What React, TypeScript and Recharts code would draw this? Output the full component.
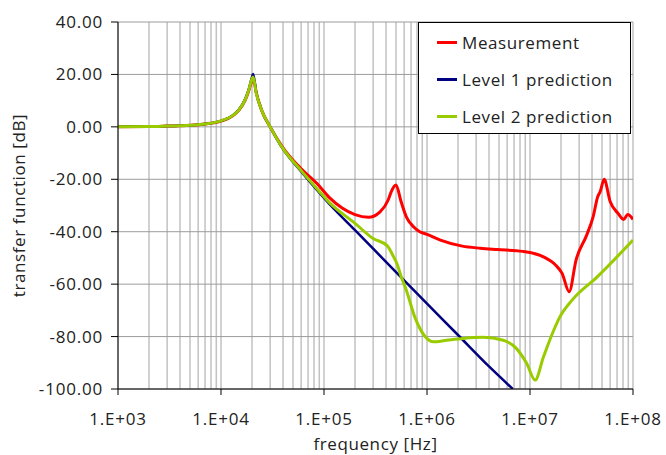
import React from "react";
import {
  CartesianGrid,
  Legend,
  Line,
  LineChart,
  XAxis,
  YAxis,
} from "recharts";

// frequency [Hz] / transfer function [dB]
const measFreq = [
  1e3, 2e3, 3e3, 5e3, 7e3, 1e4, 1.3e4, 1.5e4, 1.7e4, 1.85e4, 2e4, 2.07e4, 2.2e4,
  2.5e4, 3e4, 4e4, 6e4, 8.5e4, 1.15e5, 1.5e5, 2e5, 2.7e5, 3.5e5, 4.2e5, 4.5e5,
  5e5, 5.6e5, 6.3e5, 7.4e5, 8.5e5, 1e6, 1.35e6, 2.2e6, 3.3e6, 4.8e6, 8.5e6,
  1.35e7, 1.8e7, 2.05e7, 2.4e7, 2.8e7, 3.55e7, 4.1e7, 4.55e7, 4.8e7, 5.25e7,
  6e7, 7.15e7, 8.1e7, 8.9e7, 1e8,
];
const measDb = [
  0, 0.1, 0.3, 0.6, 1.1, 2.2, 4.2, 6.5, 9.8, 13.5, 17.5, 18.0, 13.0, 6.0, 0.0,
  -8.0, -16.0, -21.5, -27.3, -31.0, -33.5, -34.5, -32.4, -27.9, -24.7, -22.2,
  -28.5, -34.3, -38.1, -40.0, -41.0, -43.2, -45.5, -46.3, -46.8, -47.5, -49.6,
  -53.0, -55.9, -62.9, -50.8, -41.3, -34.3, -26.6, -24.7, -20.0, -28.5, -33.0,
  -35.3, -33.4, -35.3,
];

const lvl1Freq = [
  1e3, 2e3, 3e3, 5e3, 7e3, 1e4, 1.3e4, 1.5e4, 1.7e4, 1.85e4, 2e4, 2.05e4, 2.2e4,
  2.5e4, 3e4, 4e4, 6e4, 8.5e4, 1.15e5, 2e5, 5e5, 1e6, 2e6, 4e6, 6.8e6,
];
const lvl1Db = [
  0, 0.1, 0.3, 0.6, 1.1, 2.3, 4.3, 6.7, 10.2, 14.0, 19.0, 20.2, 13.0, 6.0, 0.0,
  -8.5, -17.0, -24.0, -29.8, -39.4, -55.4, -67.4, -79.4, -91.4, -100,
];

const lvl2Freq = [
  1e3, 2e3, 3e3, 5e3, 7e3, 1e4, 1.3e4, 1.5e4, 1.7e4, 1.85e4, 2e4, 2.05e4, 2.2e4,
  2.5e4, 3e4, 4e4, 6e4, 8.5e4, 1.15e5, 2e5, 3e5, 4.1e5, 4.7e5, 5.1e5, 5.6e5,
  6.3e5, 7.6e5, 9.1e5, 1.15e6, 1.55e6, 2.25e6, 3.5e6, 5.5e6, 7.4e6, 9.3e6,
  1.12e7, 1.35e7, 1.7e7, 1.95e7, 2.6e7, 4.5e7, 1e8,
];
const lvl2Db = [
  0, 0.1, 0.3, 0.6, 1.1, 2.3, 4.3, 6.6, 10.0, 13.8, 18.3, 19.0, 12.8, 6.0, 0.0,
  -8.3, -16.7, -23.5, -29.2, -36.8, -42.6, -45.3, -49.3, -52.1, -57.0, -62.3,
  -72.5, -78.8, -82.0, -81.4, -80.7, -80.3, -81.4, -84.6, -90.3, -96.6, -87.8,
  -77.6, -72.5, -65.8, -57.2, -43.2,
];

const decades = [1e3, 1e4, 1e5, 1e6, 1e7, 1e8];
const yTicks = [-100, -80, -60, -40, -20, 0, 20, 40];

const seriesNames = ["Measurement", "Level 1 prediction", "Level 2 prediction"];
const seriesColors = ["#ff0000", "#000080", "#99cc00"];

// all 1..9 multiples per decade, so the grid gets the log minor lines
const xTicks = decades.flatMap((d, i) =>
  i === decades.length - 1 ? [d] : [1, 2, 3, 4, 5, 6, 7, 8, 9].map((m) => m * d)
);
const decadeSet = new Set(decades);

const toRows = (freq: number[], db: number[]) =>
  freq.map((f, i) => ({ f, db: db[i] }));

const measData = toRows(measFreq, measDb);
const lvl1Data = toRows(lvl1Freq, lvl1Db);
const lvl2Data = toRows(lvl2Freq, lvl2Db);

const FONT = "'Open Sans', 'Noto Sans', sans-serif";
const TEXT = "#222";
const X_TICK = 6;
const X_MARGIN = 18;

const fmtDecade = (v: number) => {
  const e = Math.round(Math.log10(v));
  return `1.E+${String(e).padStart(2, "0")}`;
};

function XTick({ x, y, payload }: any) {
  if (!decadeSet.has(payload.value)) return <g />;
  return (
    <g>
      <line
        x1={x}
        x2={x}
        y1={y - X_MARGIN - X_TICK}
        y2={y - X_MARGIN}
        stroke="#000"
      />
      <text
        x={x}
        y={y}
        dy="0.71em"
        textAnchor="middle"
        fill={TEXT}
        fontSize={17}
        letterSpacing={0.8}
        fontFamily={FONT}
      >
        {fmtDecade(payload.value)}
      </text>
    </g>
  );
}

function YLabel({ viewBox }: any) {
  const cx = 25;
  const cy = viewBox ? viewBox.y + viewBox.height / 2 : 205;
  return (
    <text
      x={cx}
      y={cy}
      transform={`rotate(-90 ${cx} ${cy})`}
      textAnchor="middle"
      fill={TEXT}
      fontSize={17}
      letterSpacing={0.6}
      fontFamily={FONT}
    >
      transfer function [dB]
    </text>
  );
}

function LegendBox() {
  return (
    <div
      style={{
        position: "relative",
        width: 213,
        height: 112,
        boxSizing: "border-box",
        border: "1px solid #000",
        background: "#fff",
        fontFamily: FONT,
        fontSize: 17,
        letterSpacing: 0.6,
        color: TEXT,
      }}
    >
      {seriesNames.map((name, i) => (
        <div
          key={name}
          style={{
            position: "absolute",
            left: 18,
            top: 19 + i * 37 - 12,
            height: 24,
            display: "flex",
            alignItems: "center",
            whiteSpace: "nowrap",
          }}
        >
          <span
            style={{
              display: "inline-block",
              width: 20,
              height: 3,
              background: seriesColors[i],
              marginRight: 5,
            }}
          />
          <span>{name}</span>
        </div>
      ))}
    </div>
  );
}

export default function App() {
  return (
    <div
      style={{
        position: "absolute",
        left: 0,
        top: 0,
        width: 666,
        height: 455,
        background: "#fff",
        overflow: "hidden",
      }}
    >
      <LineChart
        width={666}
        height={455}
        margin={{ top: 22, right: 33, bottom: 0, left: 0 }}
      >
        <CartesianGrid horizontal={false} stroke="#c2c2c2" strokeWidth={1.5} />
        <CartesianGrid vertical={false} stroke="#9c9c9c" />
        <XAxis
          type="number"
          dataKey="f"
          scale="log"
          domain={[1e3, 1e8]}
          allowDataOverflow
          ticks={xTicks}
          interval={0}
          tick={<XTick />}
          tickLine={false}
          tickSize={X_TICK}
          tickMargin={X_MARGIN}
          height={66}
          axisLine={{ stroke: "#000" }}
          label={{
            value: "frequency [Hz]",
            position: "insideBottom",
            offset: 5,
            fill: TEXT,
            fontSize: 17,
            letterSpacing: 0.6,
            fontFamily: FONT,
          }}
        />
        <YAxis
          type="number"
          domain={[-100, 40]}
          allowDataOverflow
          ticks={yTicks}
          interval={0}
          width={118}
          tickSize={7}
          tickMargin={8}
          tickFormatter={(v: number) => v.toFixed(2)}
          tick={{ fill: TEXT, fontSize: 17, fontFamily: FONT, letterSpacing: 0.8 }}
          axisLine={{ stroke: "#000" }}
          tickLine={{ stroke: "#000" }}
          label={<YLabel />}
        />
        <Legend
          layout="vertical"
          align="center"
          verticalAlign="middle"
          content={<LegendBox />}
          wrapperStyle={{ left: 418, top: 22, width: 213, height: 112 }}
        />
        <Line
          data={measData}
          dataKey="db"
          name={seriesNames[0]}
          type="monotone"
          stroke={seriesColors[0]}
          strokeWidth={3}
          dot={false}
          isAnimationActive={false}
        />
        <Line
          data={lvl1Data}
          dataKey="db"
          name={seriesNames[1]}
          type="monotone"
          stroke={seriesColors[1]}
          strokeWidth={2.5}
          dot={false}
          isAnimationActive={false}
        />
        <Line
          data={lvl2Data}
          dataKey="db"
          name={seriesNames[2]}
          type="monotone"
          stroke={seriesColors[2]}
          strokeWidth={3}
          dot={false}
          isAnimationActive={false}
        />
      </LineChart>
    </div>
  );
}
